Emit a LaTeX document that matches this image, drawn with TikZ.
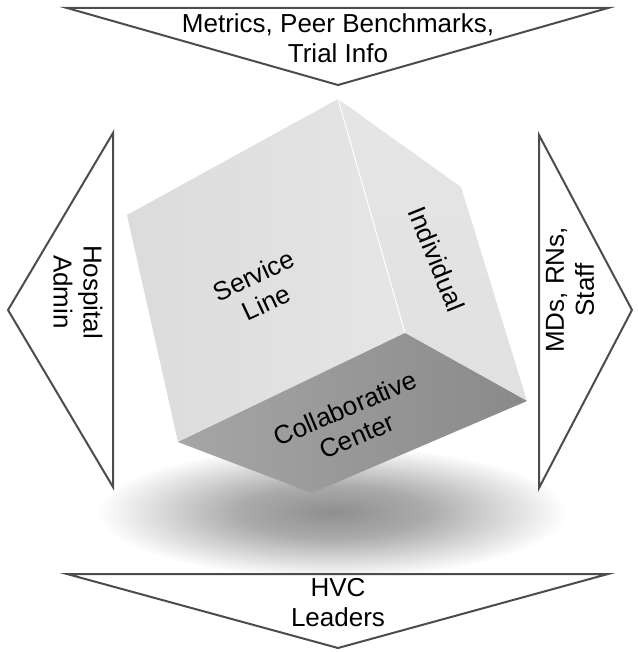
\documentclass[tikz,border=0pt]{standalone}
\usepackage{fontspec}
\setmainfont{Liberation Sans}
\usepackage{tikz}
\pgfdeclareradialshading{cubeshadow}{\pgfpoint{0bp}{0bp}}{color(0bp)=(black!44); color(10bp)=(black!33); color(25bp)=(white); color(50bp)=(white)}

\begin{document}
\begin{tikzpicture}[x=1pt,y=-1pt,
    tri/.style={draw=black!70, line width=2pt, fill=white, line join=miter},
    lbl/.style={font=\fontsize{26pt}{30pt}\selectfont, align=center, inner sep=0pt}]
    \useasboundingbox (0,0) rectangle (637,652);

    % shadow under the cube
    \shade[shading=cubeshadow] (332,512) ellipse [x radius=235pt, y radius=66pt];

    % arrows round the cube
    \draw[tri] (67,8) -- (608,8) -- (338,85) -- cycle;
    \draw[tri] (67,574) -- (608,574) -- (338,648) -- cycle;
    \draw[tri] (113,133) -- (113,487) -- (8,310) -- cycle;
    \draw[tri] (539,135) -- (539,488) -- (632,310) -- cycle;

    % cube corners
    \coordinate (ctop) at (338,99);
    \coordinate (cleft) at (127,215);
    \coordinate (cright) at (461,187);
    \coordinate (cfront) at (405,333);
    \coordinate (cbl) at (178,442);
    \coordinate (cbr) at (527,401);
    \coordinate (cbot) at (312,493);

    % cube faces
    \shade[left color=black!14, right color=black!10] (cleft) -- (ctop) -- (cfront) -- (cbl) -- cycle;
    \shade[top color=black!10, bottom color=black!12] (ctop) -- (cright) -- (cbr) -- (cfront) -- cycle;
    \shade[left color=black!35, right color=black!46] (cbl) -- (cfront) -- (cbr) -- (cbot) -- cycle;
    \draw[white, line width=1pt] (ctop) -- (cfront);

    % face labels
    \node[lbl, rotate=25] (service) at (260,289) {Service\\Line};
    \node[lbl, rotate=-68] (individual) at (437,259) {Individual};
    \node[lbl, rotate=23] (collab) at (351,422) {Collaborative\\Center};

    % arrow labels
    \node[lbl] (metrics) at (338,38) {Metrics, Peer Benchmarks,\\Trial Info};
    \node[lbl] (hvc) at (338,603) {HVC\\Leaders};
    \node[lbl, rotate=-90] (hospital) at (78,292) {Hospital\\Admin};
    \node[lbl, rotate=90] (mds) at (570,290) {MDs, RNs,\\Staff};
\end{tikzpicture}
\end{document}
